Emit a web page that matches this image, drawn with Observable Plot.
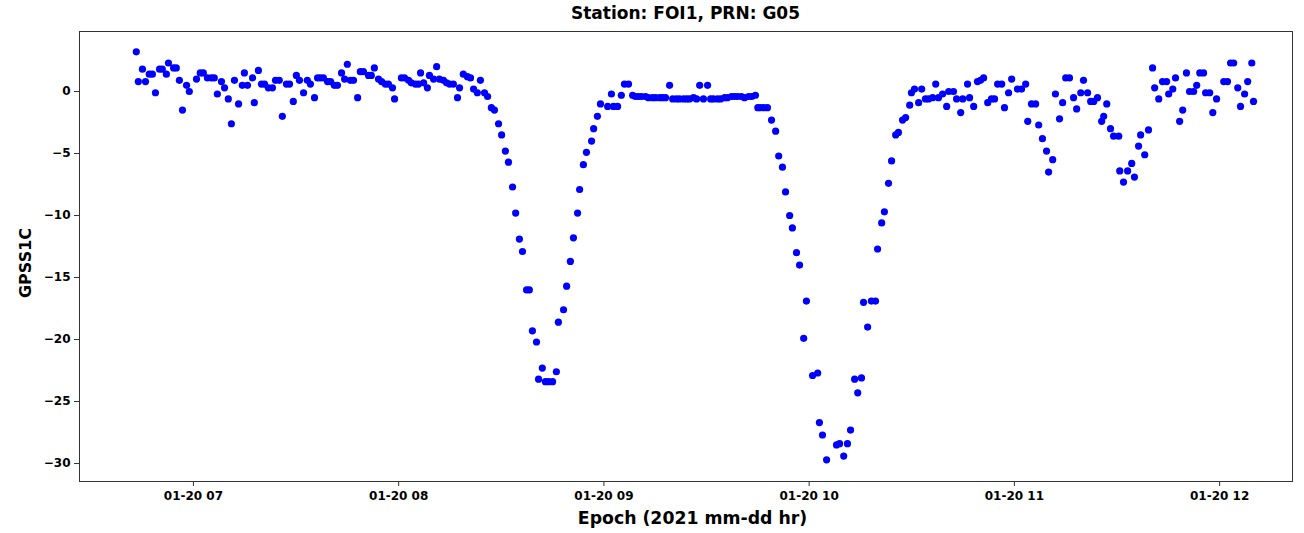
<!DOCTYPE html>
<html>
<head>
<meta charset="utf-8">
<script src="https://cdn.jsdelivr.net/npm/d3@7"></script>
<script src="https://cdn.jsdelivr.net/npm/@observablehq/plot@0.6"></script>
<style>
  html, body { margin: 0; padding: 0; background: #fff; }
  #title { box-sizing: border-box; width: 1304px; height: 25px; padding-left: 79px; padding-right: 12px; padding-top: 4px;
    text-align: center; font-family: "DejaVu Sans", sans-serif; font-weight: bold; font-size: 17px; line-height: 18px; color: #000; }
</style>
</head>
<body>
<div id="title">Station: FOI1, PRN: G05</div>
<div id="chart"></div>
<script>
// Minutes after 06:00 UTC on 2021-01-20
const minutesAfter6 = [
  43.3,43.9,45.1,46.0,47.1,48.0,48.9,50.1,50.9,52.1,52.7,54.2,55.0,55.9,56.8,58.0,58.8,60.9,62.0,62.9,
  64.1,65.3,66.1,67.0,68.2,69.1,70.2,71.1,72.0,73.2,74.3,74.9,75.8,77.3,77.8,79.0,79.9,80.8,81.9,83.1,
  84.0,85.1,86.0,87.2,88.1,89.2,90.1,91.0,92.2,93.3,
  94.2,95.4,96.3,97.1,98.0,99.2,100.1,101.2,102.1,103.3,104.2,105.0,105.9,106.8,108.0,108.8,109.7,111.2,112.0,112.9,
  114.1,115.0,116.1,117.0,118.2,118.8,120.8,121.7,122.9,123.7,124.9,125.8,126.4,127.3,128.4,129.0,130.2,131.1,131.9,133.1,
  134.0,134.9,136.0,137.2,137.8,138.9,140.1,141.0,141.9,143.0,143.9,145.1,146.0,147.1,148.0,149.2,150.1,151.2,152.1,153.3,
  154.2,155.3,156.2,157.4,158.2,159.1,160.3,160.9,162.0,162.9,163.8,165.0,166.1,166.7,168.2,169.1,170.2,171.1,172.3,172.9,
  174.0,174.9,176.4,177.0,178.1,179.0,181.1,182.2,182.8,184.0,185.1,186.0,187.2,188.4,189.2,
  190.1,191.0,192.2,193.0,194.2,195.1,196.3,197.1,198.0,199.2,200.1,201.2,202.1,203.3,204.2,205.0,206.2,207.1,208.0,209.1,
  210.3,211.2,212.0,213.2,214.1,215.3,216.1,217.3,218.2,219.1,220.2,221.1,222.3,223.2,224.3,
  225.0,225.8,226.7,227.8,229.0,230.2,231.1,232.2,233.1,234.3,235.1,236.3,237.2,238.4,239.2,241.0,242.5,243.0,243.9,245.1,
  248.0,248.9,250.1,251.2,252.1,253.3,254.2,255.3,255.9,257.1,258.2,259.4,260.0,261.2,262.0,263.2,264.1,265.3,266.1,267.3,
  268.2,269.4,269.9,270.8,272.0,272.9,274.0,274.9,276.1,277.0,277.8,279.0,280.2,280.8,282.2,283.1,284.3,284.9,286.3,286.9,
  288.1,289.2,290.1,291.0,292.2,293.3,294.2,295.1,296.3,297.1,298.3,299.2,300.9,302.1,303.3,303.9,305.0,306.2,307.1,308.2,
  309.4,310.0,311.2,312.0,313.2,314.1,315.0,316.1,317.3,318.2,319.4,320.2,321.4,322.3,323.2,324.3,325.5,326.1,327.0,328.1,
  329.0,330.5,330.8,331.9,333.1,334.3,335.1,336.3,336.9,338.1,339.2,340.4,341.0,342.2,343.3,344.5,345.1,346.3,347.1,348.3,
  349.2,350.3,351.2,352.4,353.3,354.2,355.3,355.9,357.1,358.0,359.1,361.2,362.3,363.2,364.1,365.3,366.1,367.3,368.2,369.4,
  369.9
];
// GPSS1C values
const gpss1c = [
  3.2,0.8,1.8,0.8,1.4,1.4,-0.1,1.8,1.8,1.4,2.3,1.9,1.9,0.9,-1.5,0.5,0.0,1.0,1.5,1.5,
  1.1,1.1,1.1,-0.2,0.8,0.3,-0.6,-2.6,0.9,-1.0,0.5,1.5,0.5,1.1,-0.9,1.7,0.6,0.6,0.3,0.3,
  0.9,0.9,-2.0,0.6,0.6,-0.8,1.3,0.9,-0.1,0.9,
  0.6,-0.5,1.1,1.1,1.1,0.8,0.8,0.5,0.5,1.5,1.0,2.2,0.9,0.9,-0.5,1.6,1.6,1.3,1.3,1.9,
  1.0,0.8,0.6,0.6,0.3,-0.6,1.1,1.1,0.9,0.7,0.6,0.6,1.5,0.7,0.3,1.3,1.0,2.0,1.0,0.9,
  0.7,0.6,0.6,-0.5,0.3,1.4,1.2,1.1,0.2,-0.1,0.9,-0.1,-0.4,-1.3,-1.5,-2.6,-3.5,-4.8,-5.7,-7.7,
  -9.8,-11.9,-12.9,-16.0,-16.0,-19.3,-20.2,-23.2,-22.3,-23.4,-23.4,-23.4,-22.6,-18.6,-17.6,-15.7,-13.7,-11.8,-9.8,-7.9,
  -5.9,-4.9,-4.0,-3.0,-2.0,-1.0,-1.2,-0.2,-1.2,-1.2,-0.3,0.6,0.6,-0.3,-0.4,
  -0.4,-0.4,-0.4,-0.5,-0.5,-0.5,-0.5,-0.5,-0.5,0.5,-0.6,-0.6,-0.6,-0.6,-0.6,-0.6,-0.5,-0.6,0.5,-0.6,
  0.5,-0.6,-0.6,-0.6,-0.6,-0.5,-0.5,-0.4,-0.4,-0.4,-0.4,-0.5,-0.4,-0.4,-0.3,
  -1.3,-1.3,-1.3,-1.3,-2.3,-3.2,-5.2,-6.1,-8.1,-10.0,-11.0,-13.0,-14.0,-19.9,-16.9,-22.9,-22.7,-26.7,-27.7,-29.7,
  -28.5,-28.4,-29.4,-28.4,-27.3,-23.2,-24.3,-23.1,-17.0,-19.0,-16.9,-16.9,-12.7,-10.6,-9.7,-7.4,-5.6,-3.5,-3.3,-2.3,
  -2.1,-1.1,-0.1,0.2,-0.9,0.2,-0.6,-0.6,-0.5,0.6,-0.5,-0.2,-1.2,0.0,0.0,-0.6,-1.7,-0.6,0.6,-0.5,
  -1.2,0.8,0.9,1.1,-0.9,-0.6,-0.6,0.6,0.6,-1.3,-0.1,1.0,0.2,0.2,0.6,-2.4,-1.0,-1.0,-2.7,-3.8,
  -4.8,-6.5,-5.5,-0.2,-2.2,-0.9,1.1,1.1,-0.5,-1.4,-0.1,0.9,-0.1,-0.8,-0.8,-0.5,-2.4,-2.0,-1.0,-3.0,
  -3.6,-3.6,-6.4,-7.3,-6.4,-5.8,-6.9,-4.4,-3.5,-5.1,-3.1,1.9,0.3,-0.6,0.8,0.8,-0.2,0.2,1.1,-2.4,
  -1.5,1.5,0.0,0.0,0.5,1.5,1.5,-0.1,-0.1,-1.7,-0.6,0.8,0.8,2.3,2.3,0.3,-1.2,-0.2,0.8,2.3,
  -0.8
];
const tickHours = [7, 8, 9, 10, 11, 12];
const tickLabels = ["01-20 07", "01-20 08", "01-20 09", "01-20 10", "01-20 11", "01-20 12"];
const yTicks = [-30, -25, -20, -15, -10, -5, 0];

const base = Date.UTC(2021, 0, 20, 6, 0, 0);
const toDate = m => new Date(base + m * 60000);
const data = minutesAfter6.map((m, i) => ({ t: toDate(m), v: gpss1c[i] }));
const tickDates = tickHours.map(h => toDate((h - 6) * 60));

const W = 1304, H = 508;
const chart = Plot.plot({
  width: W, height: H,
  marginTop: 6, marginBottom: 52, marginLeft: 79, marginRight: 12,
  x: { type: "utc", domain: [toDate(26.7), toDate(381.3)] },
  y: { domain: [-31.45, 4.84] },
  style: { fontFamily: "DejaVu Sans, sans-serif", fontSize: "12px", fontWeight: "bold", color: "#000", background: "#fff", overflow: "visible" },
  marks: [
    Plot.dot(data, { x: "t", y: "v", r: 3.6, fill: "#0000ff", stroke: "none" }),
    Plot.frame({ stroke: "#333", strokeWidth: 1 }),
    Plot.axisX({ ticks: tickDates, tickFormat: d => tickLabels[tickHours.indexOf(d.getUTCHours())], tickSize: 5, tickPadding: 5, label: null, stroke: "#333" }),
    Plot.axisY({ ticks: yTicks, tickSize: 5, tickPadding: 4, label: null, stroke: "#333" })
  ]
});
document.getElementById("chart").appendChild(chart);

const svg = d3.select(chart);
svg.append("text")
  .attr("x", (79 + W - 12) / 2 + 7).attr("y", 499)
  .attr("text-anchor", "middle")
  .attr("font-family", "DejaVu Sans, sans-serif").attr("font-size", "17.3px").attr("font-weight", "bold")
  .attr("fill", "#000")
  .text("Epoch (2021 mm-dd hr)");
svg.append("text")
  .attr("transform", `translate(31, ${238}) rotate(-90)`)
  .attr("text-anchor", "middle")
  .attr("font-family", "DejaVu Sans, sans-serif").attr("font-size", "16px").attr("font-weight", "bold")
  .attr("fill", "#000")
  .text("GPSS1C");
</script>
</body>
</html>
